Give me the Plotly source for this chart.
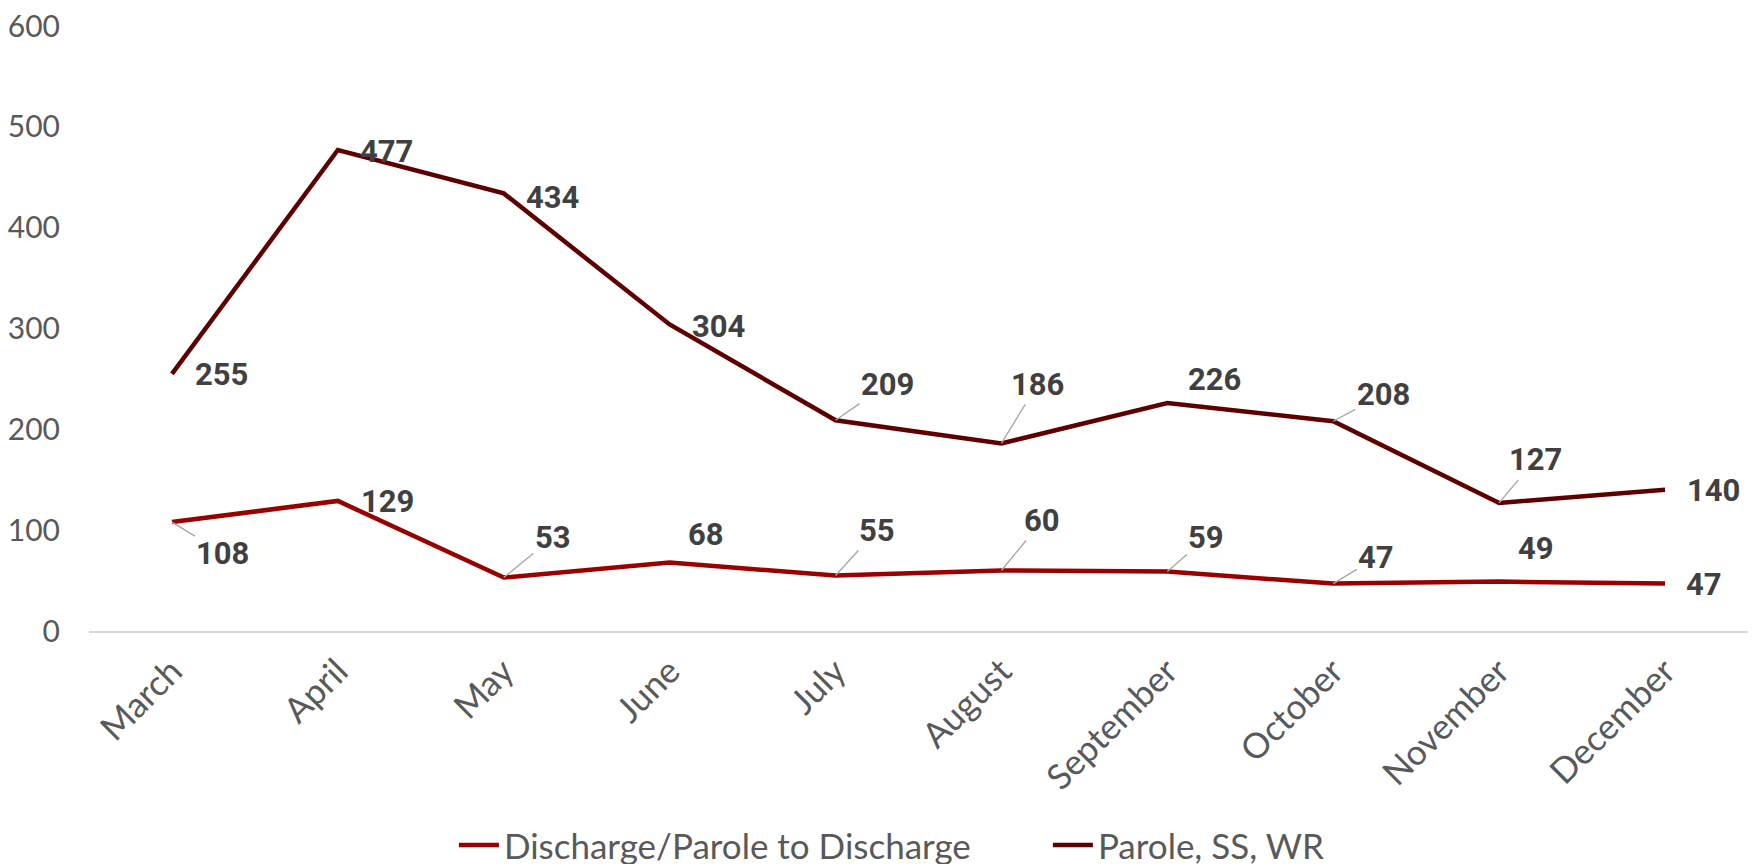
import plotly.graph_objects as go

months = ["March", "April", "May", "June", "July", "August",
          "September", "October", "November", "December"]
discharge = [108, 129, 53, 68, 55, 60, 59, 47, 49, 47]
parole = [255, 477, 434, 304, 209, 186, 226, 208, 127, 140]
series_names = ["Discharge/Parole to Discharge", "Parole, SS, WR"]
y_ticks = [0, 100, 200, 300, 400, 500, 600]

# label placement (pixel offsets from the point) and whether a leader line is drawn
dis_off = [(51, 31, True), (50, 1, False), (49, -40, True), (36, -28, False), (41, -45, True),
           (41, -50, True), (39, -34, True), (43, -26, True), (37, -33, False), (39, 1, False)]
par_off = [(50, 1, False), (49, 1, False), (49, 4, False), (49, 2, False), (52, -36, True),
           (36, -59, True), (47, -24, False), (50, -27, True), (36, -43, True), (48, 1, False)]

c_dis = "#9a0000"
c_par = "#5f0000"

fig = go.Figure()
fig.add_trace(go.Scatter(x=months, y=discharge, mode="lines", name=series_names[0],
                         line=dict(color=c_dis, width=4.5)))
fig.add_trace(go.Scatter(x=months, y=parole, mode="lines", name=series_names[1],
                         line=dict(color=c_par, width=4.5)))

for vals, offs in ((discharge, dis_off), (parole, par_off)):
    for m, v, (dx, dy, lead) in zip(months, vals, offs):
        fig.add_annotation(
            x=m, y=v, text=str(v), showarrow=True, ax=dx, ay=dy,
            arrowhead=0, arrowwidth=1.3, standoff=0, startstandoff=0,
            arrowcolor="#a6a6a6" if lead else "rgba(0,0,0,0)",
            font=dict(family="Roboto", size=31, color="#404040", weight="bold"),
        )

fig.update_layout(
    width=1759, height=864,
    margin=dict(l=81, r=19, t=18, b=241, autoexpand=False),
    plot_bgcolor="white", paper_bgcolor="white",
    showlegend=True,
    legend=dict(orientation="h", x=0.2535, xanchor="left", xref="container",
                y=0.031, yanchor="middle", yref="container",
                font=dict(family="Lato", size=35, color="#595959"),
                itemwidth=40, entrywidth=539, tracegroupgap=0),
    xaxis=dict(showgrid=False, showline=True, linecolor="#d9d9d9", linewidth=1.5,
               ticks="", tickangle=-45, range=[-0.5, 9.5], automargin=False,
               ticklabelstandoff=4,
               tickfont=dict(family="Lato", size=35, color="#595959")),
    yaxis=dict(range=[0, 600], tickvals=y_ticks, showgrid=False, zeroline=False,
               showline=False, ticks="", ticklabelstandoff=28, automargin=False,
               ticklabeloverflow="allow",
               tickfont=dict(family="Lato", size=30, color="#595959")),
)

fig.write_html("out.html")
